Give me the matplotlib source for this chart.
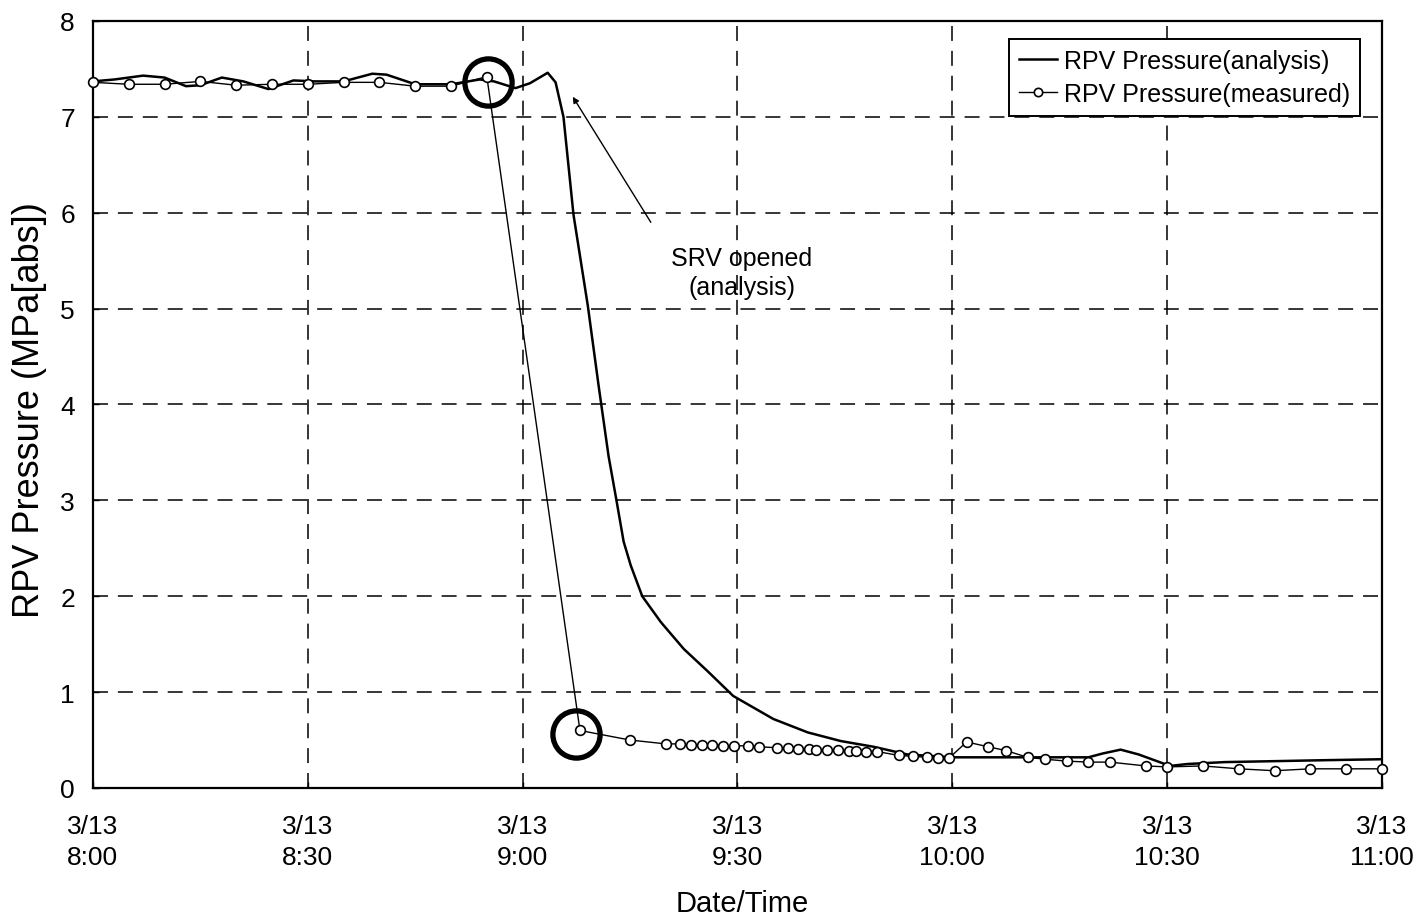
import matplotlib
matplotlib.use("Agg")
import matplotlib.pyplot as plt

plt.rcParams['font.family'] = ['Liberation Sans', 'DejaVu Sans']

# ---- data (minutes after 3/13 8:00, pressure MPa[abs]) ----
time_analysis = [0, 3, 7, 10, 13, 15, 18, 21, 24.5, 28, 31, 35, 39, 41, 45, 50, 54, 56, 59, 61,
                 63.5, 64.6, 65.7, 67.1, 69.1, 70.6, 72, 73.1, 74.1, 75.1, 76.7, 79.3, 82.5, 85.8,
                 89.4, 95, 99.8, 104.4, 109, 113.7, 120, 130, 139, 141, 143.5, 146, 150.4, 152.8,
                 158, 165, 172, 180]
p_analysis = [7.37, 7.39, 7.43, 7.41, 7.32, 7.33, 7.41, 7.37, 7.29, 7.38, 7.37, 7.37, 7.45, 7.44,
              7.34, 7.34, 7.39, 7.37, 7.30, 7.35, 7.46, 7.36, 7.0, 5.98, 5.03, 4.2, 3.46, 3.0, 2.57,
              2.32, 2.0, 1.73, 1.45, 1.22, 0.96, 0.72, 0.58, 0.49, 0.43, 0.35, 0.32, 0.32, 0.32,
              0.36, 0.40, 0.35, 0.23, 0.25, 0.27, 0.28, 0.29, 0.30]

time_measured = [0, 5, 10, 15, 20, 25, 30, 35, 40, 45, 50, 55, 68, 75,
                 80, 82, 83.5, 85, 86.5, 88, 89.5, 91.5, 93,
                 95.5, 97, 98.5, 100, 101, 102.5, 104, 105.5, 106.5, 108, 109.5,
                 112.5, 114.5, 116.5, 118, 119.5,
                 122, 125, 127.5, 130.5, 133, 136, 139, 142, 147, 150, 155, 160, 165, 170, 175, 180]
p_measured = [7.36, 7.34, 7.34, 7.37, 7.33, 7.34, 7.34, 7.36, 7.36, 7.32, 7.32, 7.42, 0.60, 0.50,
              0.46, 0.46, 0.45, 0.45, 0.45, 0.44, 0.44, 0.44, 0.43,
              0.42, 0.42, 0.41, 0.41, 0.40, 0.40, 0.40, 0.39, 0.39, 0.38, 0.38,
              0.34, 0.33, 0.32, 0.31, 0.31,
              0.48, 0.43, 0.39, 0.32, 0.30, 0.28, 0.27, 0.27, 0.23, 0.22, 0.23, 0.20, 0.18, 0.20,
              0.20, 0.20]

highlight_times = [55.1, 67.4]
highlight_values = [7.36, 0.56]

tick_minutes = [0, 30, 60, 90, 120, 150, 180]
tick_labels = ["3/13\n8:00", "3/13\n8:30", "3/13\n9:00", "3/13\n9:30",
               "3/13\n10:00", "3/13\n10:30", "3/13\n11:00"]
y_ticks = [0, 1, 2, 3, 4, 5, 6, 7, 8]

series_labels = ["RPV Pressure(analysis)", "RPV Pressure(measured)"]
annotation_text = "SRV opened\n(analysis)"
annotation_point = (67.0, 7.21)
annotation_text_at = (77.9, 5.90)

# ---- figure ----
fig = plt.figure(figsize=(14.21, 9.2), dpi=100)
ax = fig.add_axes([0.0654, 0.1424, 0.9072, 0.8337])

ax.plot(time_analysis, p_analysis, color='black', lw=1.8, label=series_labels[0], zorder=3)
ax.plot(time_measured, p_measured, color='black', lw=1.0, marker='o', markersize=7,
        markerfacecolor='white', markeredgecolor='black', markeredgewidth=1.2,
        label=series_labels[1], zorder=4, clip_on=False)

ax.plot(highlight_times, highlight_values, linestyle='none', marker='o', markersize=34,
        markerfacecolor='none', markeredgecolor='black', markeredgewidth=3.8, zorder=5)

ax.annotate('', xy=annotation_point, xytext=annotation_text_at,
            arrowprops=dict(arrowstyle='-|>', color='black', lw=1.0, mutation_scale=9,
                            shrinkA=0, shrinkB=0), zorder=6)
ax.text(90.6, 5.38, annotation_text, ha='center', va='center', fontsize=18,
        linespacing=1.25)

ax.set_xlim(0, 180)
ax.set_ylim(0, 8)
ax.set_xticks(tick_minutes)
ax.set_xticklabels(tick_labels, fontsize=19, linespacing=1.35)
ax.set_yticks(y_ticks)
ax.set_yticklabels([str(v) for v in y_ticks], fontsize=19)
ax.tick_params(axis='x', direction='in', length=4, width=1, pad=19)
ax.tick_params(axis='y', direction='in', length=4, width=1, pad=13)

ax.grid(True, color='black', lw=1.1, linestyle=(0, (9.8, 6.5)))
for sp in ax.spines.values():
    sp.set_linewidth(1.6)
    sp.set_color('black')

ax.set_xlabel("Date/Time", fontsize=21)
ax.xaxis.set_label_coords(0.504, -0.132)
ax.set_ylabel("RPV Pressure (MPa[abs])", fontsize=26)
ax.yaxis.set_label_coords(-0.036, 0.494)

leg = ax.legend(loc='upper right', bbox_to_anchor=(0.983, 0.9765), borderaxespad=0,
                fontsize=18, frameon=True, fancybox=False, handlelength=1.5,
                handletextpad=0.3, labelspacing=0.35, borderpad=0.4)
leg.get_frame().set_edgecolor('black')
leg.get_frame().set_linewidth(1.4)
leg.get_frame().set_alpha(1)
for h in leg.legend_handles:
    try:
        h.set_markersize(6)
    except Exception:
        pass

fig.savefig("out.png", dpi=100)
